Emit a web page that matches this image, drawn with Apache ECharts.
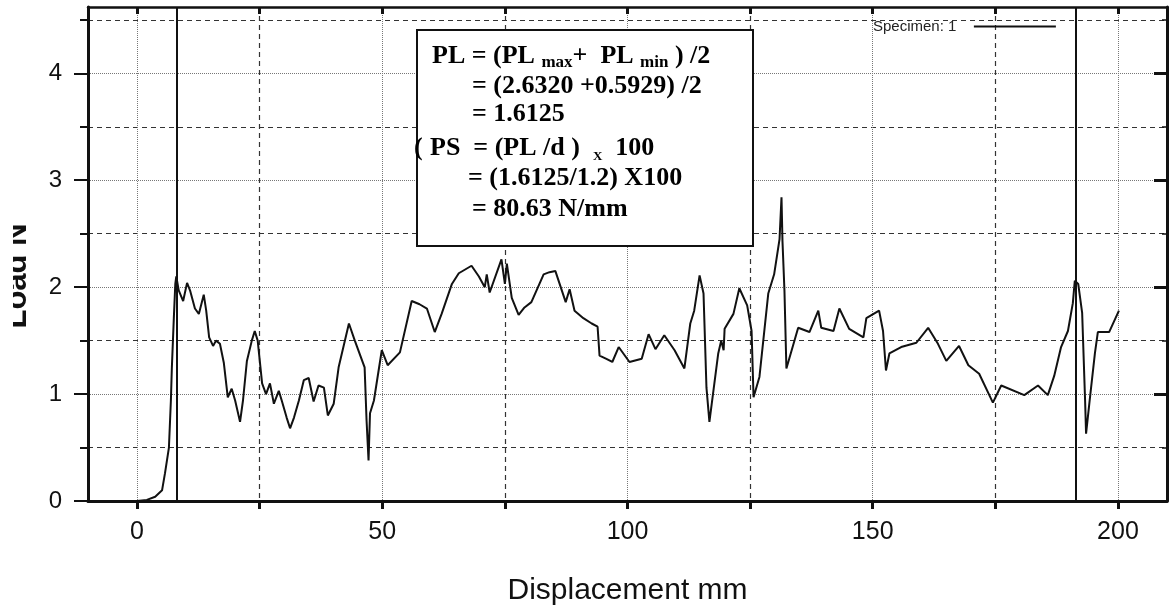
<!DOCTYPE html>
<html>
<head>
<meta charset="utf-8">
<script src="https://cdn.jsdelivr.net/npm/echarts@6/dist/echarts.min.js"></script>
<style>
  html, body { margin: 0; padding: 0; background: #fff; }
  #chart { width: 1176px; height: 614px; }
</style>
</head>
<body>
<div id="chart"></div>
<script>
// Axis ticks (displacement in mm, load in N)
const xMajorTicks = [0, 50, 100, 150, 200];
const xMinorTicks = [25, 75, 125, 175];
const xAllTicks = [0, 25, 50, 75, 100, 125, 150, 175, 200];
const yMajorTicks = [0, 1, 2, 3, 4];
const yMinorTicks = [0.5, 1.5, 2.5, 3.5, 4.5];

// Vertical cursor lines marking the evaluated range
const markerPositions = [8.1, 191.4];

const seriesName = 'Specimen: 1';
const xTitle = 'Displacement mm';
const yTitle = 'Load N';

// Peel test record: [displacement mm, load N]
const loadCurve = [
  [0, 0], [2, 0.01], [3.7, 0.04], [5.1, 0.1], [5.7, 0.26], [6.5, 0.5], [6.9, 0.94], [7.1, 1.25],
  [7.5, 1.71], [7.8, 2.03], [8.0, 2.1], [8.5, 1.97], [9.4, 1.87], [10.2, 2.04], [10.8, 1.97],
  [11.8, 1.8], [12.6, 1.75], [13.6, 1.93], [14.1, 1.78], [14.7, 1.53], [15.5, 1.45], [16.1, 1.5],
  [16.9, 1.47], [17.7, 1.29], [18.5, 0.97], [19.3, 1.05], [20.0, 0.94], [21.0, 0.74], [21.6, 0.94],
  [22.4, 1.31], [23.4, 1.5], [24.0, 1.59], [24.6, 1.5], [25.5, 1.1], [26.3, 1.0], [27.1, 1.1],
  [27.9, 0.91], [28.9, 1.03], [29.5, 0.94], [30.5, 0.78], [31.2, 0.68], [32.0, 0.78], [33.0, 0.94],
  [34.0, 1.13], [35.0, 1.15], [36.0, 0.93], [37.0, 1.08], [38.1, 1.06], [38.9, 0.8], [40.1, 0.91],
  [41.1, 1.25], [43.2, 1.66], [44.4, 1.5], [46.4, 1.25], [46.8, 0.75], [47.2, 0.38], [47.5, 0.82],
  [48.3, 0.94], [49.9, 1.41], [51.1, 1.27], [53.6, 1.39], [56.0, 1.87], [57.6, 1.84], [59.1, 1.8],
  [60.7, 1.58], [62.1, 1.75], [64.2, 2.03], [65.6, 2.13], [68.2, 2.2], [69.7, 2.1], [70.9, 2.0],
  [71.3, 2.12], [71.9, 1.95], [74.3, 2.26], [75.0, 2.03], [75.4, 2.22], [76.4, 1.9], [77.8, 1.74],
  [79.0, 1.81], [80.4, 1.86], [82.9, 2.12], [84.1, 2.14], [85.3, 2.15], [87.4, 1.86], [88.2, 1.98],
  [89.2, 1.78], [91.0, 1.71], [92.7, 1.66], [93.9, 1.63], [94.3, 1.36], [95.7, 1.33], [96.9, 1.3],
  [98.2, 1.44], [100.4, 1.3], [102.9, 1.33], [104.3, 1.56], [105.7, 1.42], [107.5, 1.55], [109.6, 1.41],
  [111.6, 1.24], [112.8, 1.66], [113.6, 1.78], [114.7, 2.11], [115.5, 1.94], [116.1, 1.06], [116.7, 0.74],
  [118.5, 1.38], [119.1, 1.5], [119.6, 1.41], [119.8, 1.61], [121.6, 1.75], [122.8, 1.99], [124.4, 1.83],
  [125.3, 1.59], [125.7, 0.97], [126.9, 1.16], [128.7, 1.94], [129.9, 2.12], [131.0, 2.45], [131.4, 2.84],
  [131.6, 2.43], [132.0, 1.97], [132.4, 1.24], [134.8, 1.62], [137.1, 1.58], [138.9, 1.78], [139.5, 1.62],
  [142.0, 1.59], [143.2, 1.8], [145.2, 1.61], [148.1, 1.53], [148.7, 1.71], [151.3, 1.78], [152.1, 1.59],
  [152.7, 1.22], [153.4, 1.38], [155.8, 1.44], [158.9, 1.48], [161.3, 1.62], [163.3, 1.47], [165.0, 1.31],
  [167.6, 1.45], [169.5, 1.27], [171.7, 1.19], [174.5, 0.92], [176.2, 1.08], [180.9, 0.99], [183.7, 1.08],
  [185.7, 0.99], [187.0, 1.17], [188.4, 1.44], [189.8, 1.59], [190.8, 1.85], [191.2, 2.06], [191.9, 2.03],
  [192.7, 1.76], [193.3, 0.94], [193.5, 0.63], [194.3, 0.97], [195.3, 1.38], [195.9, 1.58], [198.2, 1.58],
  [200.2, 1.78]
];

// Peel strength calculation shown in the boxed note
const formulaLines = [
  '{b|PL = (PL }{s|max}{b|+  PL }{s|min}{b| ) /2}',
  '{b|= (2.6320 +0.5929) /2}',
  '{b|= 1.6125}',
  '{b|PS  = (PL /d )  }{x|X}{b|  100}',
  '{b|= (1.6125/1.2) X100}',
  '{b|= 80.63 N/mm}'
];

const INK = '#111';
const SANS = "'Liberation Sans', Arial, sans-serif";
const SERIF = "'Liberation Serif', 'Times New Roman', serif";

const X_MIN = -10, X_MAX = 210, Y_MIN = 0, Y_MAX = 4.62;

const dotted = { color: '#777', width: 1, type: [1, 1] };
const dashed = { color: '#333', width: 1.2, type: [5, 4] };

function xAxisBase(extra) {
  return Object.assign({
    type: 'value', min: X_MIN, max: X_MAX, position: 'bottom',
    axisLine: { show: false, onZero: false },
    axisTick: { show: false },
    axisLabel: { show: false },
    splitLine: { show: false }
  }, extra);
}
function yAxisBase(extra) {
  return Object.assign({
    type: 'value', min: Y_MIN, max: Y_MAX, position: 'left',
    axisLine: { show: false, onZero: false },
    axisTick: { show: false },
    axisLabel: { show: false },
    splitLine: { show: false }
  }, extra);
}

const richStyles = {
  b: { fontFamily: SERIF, fontWeight: 'bold', fontSize: 26, lineHeight: 30, verticalAlign: 'middle', color: INK },
  s: { fontFamily: SERIF, fontWeight: 'bold', fontSize: 17, lineHeight: 17, verticalAlign: 'bottom', color: INK },
  x: { fontFamily: SERIF, fontWeight: 'bold', fontSize: 13, lineHeight: 15, verticalAlign: 'bottom', color: INK }
};
const formulaX = [432, 472, 472, 430, 468, 472];
const formulaTop = [41, 71, 99, 133, 163, 194];

const chart = echarts.init(document.getElementById('chart'), null, { renderer: 'canvas' });

const option = {
  animation: false,
  backgroundColor: '#fff',
  grid: { left: 88, right: 9, top: 7, bottom: 113, containLabel: false },
  legend: {
    data: [seriesName],
    left: 868, top: 14,
    icon: 'rect', itemWidth: 82, itemHeight: 2, align: 'right',
    formatter: n => n + '   ',
    textStyle: { fontFamily: SANS, fontSize: 15, color: '#222' }
  },
  xAxis: [
    xAxisBase({
      axisLine: { show: true, onZero: false, lineStyle: { color: INK, width: 3 } },
      axisTick: { show: true, customValues: xAllTicks, length: 8, lineStyle: { color: INK, width: 3 } },
      axisLabel: { show: true, customValues: xMajorTicks, margin: 19, color: INK, fontSize: 25, fontFamily: SANS },
      name: xTitle, nameLocation: 'middle', nameGap: 75,
      nameTextStyle: { fontFamily: SANS, fontSize: 30, color: INK }
    }),
    xAxisBase({ axisTick: { show: false, customValues: xMajorTicks }, splitLine: { show: true, lineStyle: dotted } }),
    xAxisBase({ axisTick: { show: false, customValues: xMinorTicks }, splitLine: { show: true, lineStyle: dashed } }),
    xAxisBase({
      position: 'top',
      axisLine: { show: true, onZero: false, lineStyle: { color: INK, width: 2.5 } },
      axisTick: { show: true, inside: true, customValues: xAllTicks, length: 7, lineStyle: { color: INK, width: 3 } }
    })
  ],
  yAxis: [
    yAxisBase({
      axisLine: { show: true, onZero: false, lineStyle: { color: INK, width: 3 } },
      axisTick: { show: true, customValues: yMajorTicks, length: 14, lineStyle: { color: INK, width: 2 } },
      axisLabel: { show: true, customValues: yMajorTicks, margin: 26, color: INK, fontSize: 24, fontFamily: SANS },
      splitLine: { show: true, lineStyle: dotted }
    }),
    yAxisBase({
      axisTick: { show: true, customValues: yMinorTicks, length: 8, lineStyle: { color: INK, width: 2 } },
      splitLine: { show: true, lineStyle: dashed }
    }),
    yAxisBase({
      position: 'right',
      axisLine: { show: true, onZero: false, lineStyle: { color: INK, width: 3 } },
      axisTick: { show: true, inside: true, customValues: yMajorTicks, length: 13, lineStyle: { color: INK, width: 3 } }
    }),
    yAxisBase({
      position: 'right',
      axisTick: { show: true, inside: true, customValues: yMinorTicks, length: 5, lineStyle: { color: INK, width: 1.5 } }
    })
  ],
  series: [{
    name: seriesName,
    type: 'line',
    xAxisIndex: 0, yAxisIndex: 0,
    data: loadCurve,
    showSymbol: false, symbol: 'none',
    color: INK,
    lineStyle: { color: INK, width: 2 },
    z: 3,
    markLine: {
      silent: true,
      symbol: 'none',
      label: { show: false },
      lineStyle: { color: INK, width: 2, type: 'solid' },
      data: markerPositions.map(v => ({ xAxis: v }))
    }
  }],
  graphic: [
    {
      type: 'text', x: 33, y: 276, rotation: Math.PI / 2, z: 50,
      style: { text: yTitle, font: 'bold 31px ' + SANS, fill: INK, align: 'center', textAlign: 'center', verticalAlign: 'bottom', textVerticalAlign: 'bottom' }
    },
    {
      type: 'rect', z: 60,
      shape: { x: 0, y: 200, width: 13, height: 150 },
      style: { fill: '#fff' }
    },
    {
      type: 'rect', z: 100,
      shape: { x: 417, y: 30, width: 336, height: 216 },
      style: { fill: '#fff', stroke: INK, lineWidth: 2 }
    },
    {
      type: 'text', x: 414, y: formulaTop[3], z: 101,
      style: { text: '{b|(}', rich: richStyles, align: 'left', verticalAlign: 'top', textAlign: 'left', textVerticalAlign: 'top' }
    }
  ].concat(formulaLines.map((t, i) => ({
    type: 'text', x: formulaX[i], y: formulaTop[i], z: 101,
    style: { text: t, rich: richStyles, align: 'left', verticalAlign: 'top', textAlign: 'left', textVerticalAlign: 'top' }
  })))
};

chart.setOption(option);
</script>
</body>
</html>
